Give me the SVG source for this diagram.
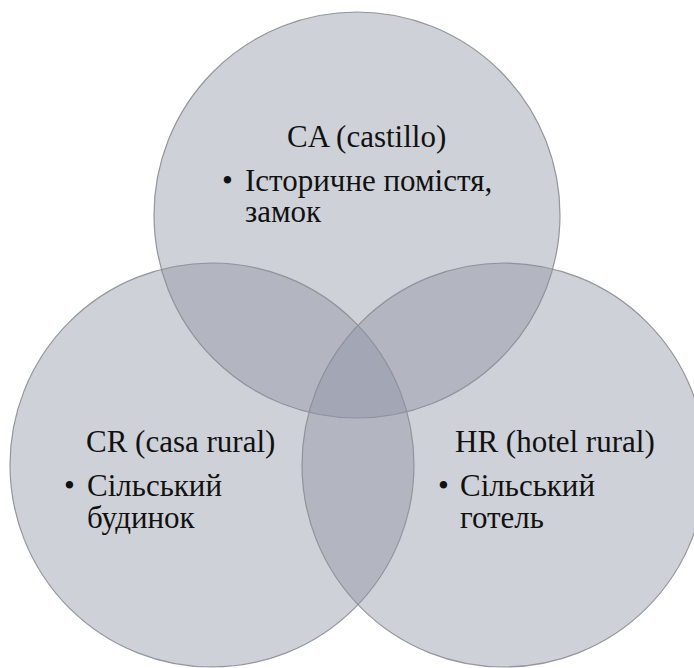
<svg xmlns="http://www.w3.org/2000/svg" width="694" height="668" viewBox="0 0 694 668">
<style>
.c{fill:rgb(140,146,162);fill-opacity:0.42;stroke:#8a8d94;stroke-width:1.2;stroke-opacity:0.9}
.t{font-size:31px;fill:#111}
</style>
<rect width="694" height="668" fill="#ffffff"/>
<g id="node-ca" font-family="Liberation Serif, Tinos, Times New Roman, DejaVu Serif, serif">
<circle class="c" cx="357" cy="215" r="203"/>
<text class="t" x="287" y="147">CA (castillo)</text>
<text class="t" x="222" y="191">•</text>
<text class="t" x="245" y="191">Історичне помістя,</text>
<text class="t" x="245" y="222">замок</text>
</g>
<g id="node-cr" font-family="Liberation Serif, Tinos, Times New Roman, DejaVu Serif, serif">
<circle class="c" cx="212" cy="465" r="202"/>
<text class="t" x="86" y="452">CR (casa rural)</text>
<text class="t" x="64" y="496">•</text>
<text class="t" x="87" y="496">Сільський</text>
<text class="t" x="87" y="528">будинок</text>
</g>
<g id="node-hr" font-family="Liberation Serif, Tinos, Times New Roman, DejaVu Serif, serif">
<circle class="c" cx="504" cy="465" r="202"/>
<text class="t" x="455" y="452">HR (hotel rural)</text>
<text class="t" x="438" y="496">•</text>
<text class="t" x="460" y="496">Сільський</text>
<text class="t" x="460" y="528">готель</text>
</g>
<g id="connectors"></g>
</svg>
